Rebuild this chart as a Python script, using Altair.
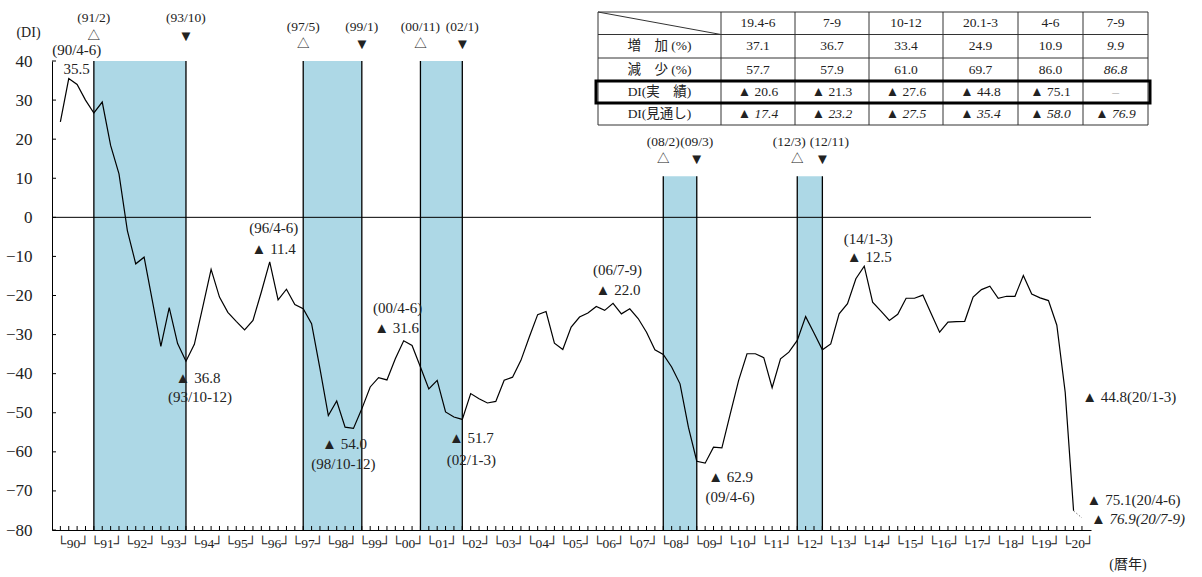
import altair as alt
import pandas as pd

# ---------------------------------------------------------------- data
# Quarterly DI, 1990 Q1 .. 2020 Q2 (negative = ▲)
di_quarterly = [
    24.4, 35.5, 34.0, 30.0,      # 1990
    26.7, 29.5, 18.4, 11.1,      # 1991
    -3.4, -11.9, -10.2, -21.5,   # 1992
    -33.0, -23.1, -32.3, -36.8,  # 1993
    -32.5, -23.0, -13.3, -20.4,  # 1994
    -24.3, -26.6, -28.8, -26.4,  # 1995
    -19.1, -11.4, -21.1, -18.4,  # 1996
    -22.3, -23.4, -27.2, -38.7,  # 1997
    -50.7, -47.0, -53.7, -54.0,  # 1998
    -49.0, -43.4, -41.0, -41.6,  # 1999
    -36.2, -31.6, -32.8, -38.3,  # 2000
    -43.9, -41.7, -49.8, -51.1,  # 2001
    -51.7, -45.1, -46.4, -47.5,  # 2002
    -47.1, -41.7, -40.9, -36.6,  # 2003
    -30.6, -24.9, -24.1, -32.2,  # 2004
    -33.8, -28.1, -25.5, -24.5,  # 2005
    -22.8, -23.8, -22.0, -24.7,  # 2006
    -23.4, -25.9, -29.4, -33.9,  # 2007
    -35.1, -38.3, -42.6, -53.7,  # 2008
    -62.4, -62.9, -58.8, -59.0,  # 2009
    -50.3, -41.7, -34.9, -34.9,  # 2010
    -35.9, -43.6, -36.2, -34.5,  # 2011
    -31.5, -25.4, -29.6, -33.9,  # 2012
    -32.4, -24.7, -22.1, -15.7,  # 2013
    -12.5, -21.7, -24.0, -26.4,  # 2014
    -24.8, -20.7, -20.7, -19.9,  # 2015
    -24.7, -29.4, -26.8, -26.7,  # 2016
    -26.6, -20.4, -18.5, -17.6,  # 2017
    -20.7, -20.2, -20.2, -14.9,  # 2018
    -19.6, -20.6, -21.3, -27.6,  # 2019
    -44.8, -75.1,                # 2020
]
di_outlook_next = -76.9          # 2020 Q3 outlook

# business-cycle peaks (△) and troughs (▼), yy/m
cycle_peaks = ["91/2", "97/5", "00/11", "08/2", "12/3"]
cycle_troughs = ["93/10", "99/1", "02/1", "09/3", "12/11"]

# turning points labelled on the line
noted_quarters = ["90/4-6", "93/10-12", "96/4-6", "98/10-12", "00/4-6",
                  "02/1-3", "06/7-9", "09/4-6", "14/1-3"]
side_quarters = ["20/1-3", "20/4-6", "20/7-9"]

# summary table
table_periods = ["19.4-6", "7-9", "10-12", "20.1-3", "4-6", "7-9"]
table_increase = [37.1, 36.7, 33.4, 24.9, 10.9, 9.9]
table_decrease = [57.7, 57.9, 61.0, 69.7, 86.0, 86.8]
table_di_actual = [-20.6, -21.3, -27.6, -44.8, -75.1, None]
table_di_outlook = [-17.4, -23.2, -27.5, -35.4, -58.0, -76.9]
table_row_names = ["増　加 (%)", "減　少 (%)", "DI(実　績)", "DI(見通し)"]

# ---------------------------------------------------------------- layout
LEFT, TOP = 52, 61
W, H = 1039, 469
X_DOM = [1989.75, 2020.77]
Y_DOM = [-80, 40]
PX_YEAR = W / (X_DOM[1] - X_DOM[0])
PX_UNIT = H / (Y_DOM[1] - Y_DOM[0])

FONT = "Liberation Serif, Noto Sans CJK JP"
INK = "#222222"
BAND = "#add8e6"


def px_to_t(px):
    return X_DOM[0] + (px - LEFT) / PX_YEAR


def py_to_v(py):
    return Y_DOM[1] - (py - TOP) / PX_UNIT


def full_year(yy):
    n = int(yy)
    return 1900 + n if n >= 50 else 2000 + n


def month_quarter_t(label):
    yy, mm = label.split("/")
    return full_year(yy) + ((int(mm) - 1) // 3) / 4


def quarter_t(label):
    yy, months = label.split("/")
    m = int(months.split("-")[0])
    return full_year(yy) + ((m - 1) // 3) / 4


def value_at(t):
    i = round((t - 1990) * 4)
    return di_quarterly[i] if i < len(di_quarterly) else di_outlook_next


def di_text(v):
    return f"{v:.1f}" if v >= 0 else f"▲ {abs(v):.1f}"


years = list(range(1990, 2021))
xs = alt.Scale(domain=X_DOM, nice=False, zero=False)
ys = alt.Scale(domain=Y_DOM, nice=False, zero=False)
x_axis = alt.Axis(
    values=[y + 0.375 for y in years],
    labelExpr="'└' + (floor(datum.value) % 100 < 10 ? '0' : '') + floor(datum.value) % 100 + '┘'",
    ticks=False, grid=False, title=None, domainColor="black", domainWidth=1,
    labelFont=FONT, labelFontSize=13.5, labelColor=INK, labelPadding=6,
    labelOverlap=False, labelFlush=False,
)
y_axis = alt.Axis(
    values=list(range(-80, 41, 10)), ticks=False, grid=False, title=None,
    domainColor="black", domainWidth=1, labelFont=FONT, labelFontSize=17,
    labelColor=INK, labelPadding=20, labelOverlap=False, labelFlush=False,
)


def xe(field):
    return alt.X(f"{field}:Q", scale=xs, axis=x_axis)


def ye(field):
    return alt.Y(f"{field}:Q", scale=ys, axis=y_axis)


def text_layer(df, size, align="center", style="normal", color=INK):
    return alt.Chart(df).mark_text(
        font=FONT, fontSize=size, align=align, baseline="middle",
        fontStyle=style, color=color,
    ).encode(x=xe("t"), y=ye("v"), text=alt.Text("text:N"))


layers = []

# ---------------------------------------------------------------- recession bands
band_tops = [40, 40, 40, 10.5, 10.5]
bands = pd.DataFrame({
    "t0": [month_quarter_t(p) for p in cycle_peaks],
    "t1": [month_quarter_t(p) for p in cycle_troughs],
    "y0": Y_DOM[0],
    "y1": band_tops,
})
layers.append(alt.Chart(bands).mark_rect(color=BAND).encode(
    x=xe("t0"), x2="t1", y=ye("y0"), y2="y1"))

edges = pd.DataFrame({
    "t": list(bands.t0) + list(bands.t1),
    "y0": Y_DOM[0],
    "y1": band_tops + band_tops,
})
layers.append(alt.Chart(edges).mark_rule(color="black", strokeWidth=1.3).encode(
    x=xe("t"), y=ye("y0"), y2="y1"))

# turning-point markers above the bands
label_lift = [43, 34, 34, 34, 34]
glyph_lift = [25, 17, 17, 17, 17]
label_nudge = {"12/3": -8, "12/11": 7}
pk_rows, tr_rows, lb_rows = [], [], []
for i, (p, q) in enumerate(zip(cycle_peaks, cycle_troughs)):
    top_py = TOP + (Y_DOM[1] - band_tops[i]) * PX_UNIT
    for lab, glyph, t, rows in ((p, "△", bands.t0[i], pk_rows),
                                (q, "▼", bands.t1[i], tr_rows)):
        rows.append({"t": t, "v": py_to_v(top_py - glyph_lift[i]), "text": glyph})
        lb_rows.append({"t": t + label_nudge.get(lab, 0) / PX_YEAR,
                        "v": py_to_v(top_py - label_lift[i]), "text": f"({lab})"})
layers.append(text_layer(pd.DataFrame(pk_rows), 12.5))
layers.append(text_layer(pd.DataFrame(tr_rows), 15))
layers.append(text_layer(pd.DataFrame(lb_rows), 13.5))

# ---------------------------------------------------------------- zero line
layers.append(alt.Chart(pd.DataFrame({"a": [X_DOM[0]], "b": [X_DOM[1]], "y": [0]}))
              .mark_rule(color="black", strokeWidth=1).encode(x=xe("a"), x2="b", y=ye("y")))

# ---------------------------------------------------------------- axis ticks (inward)
qticks = pd.DataFrame({"t": [1990 + i / 4 for i in range(len(di_quarterly) + 1)]})
qticks["y0"] = Y_DOM[0]
qticks["y1"] = Y_DOM[0] + 4 / PX_UNIT
layers.append(alt.Chart(qticks).mark_rule(color="black", strokeWidth=1).encode(
    x=xe("t"), y=ye("y0"), y2="y1"))

yticks = pd.DataFrame({"v": list(range(-80, 41, 10))})
yticks["a"] = X_DOM[0]
yticks["b"] = X_DOM[0] + 4 / PX_YEAR
layers.append(alt.Chart(yticks).mark_rule(color="black", strokeWidth=1).encode(
    x=xe("a"), x2="b", y=ye("v")))

# ---------------------------------------------------------------- DI line
series = pd.DataFrame({"t": [1990 + i / 4 for i in range(len(di_quarterly))],
                       "di": di_quarterly})
layers.append(alt.Chart(series).mark_line(color="black", strokeWidth=1.2).encode(
    x=xe("t"), y=ye("di")))

outlook = pd.DataFrame({"t": [series.t.iloc[-1], series.t.iloc[-1] + 0.25],
                        "di": [di_quarterly[-1], di_outlook_next]})
layers.append(alt.Chart(outlook).mark_line(color="#777777", strokeWidth=1,
                                           strokeDash=[1.5, 2]).encode(
    x=xe("t"), y=ye("di")))

# ---------------------------------------------------------------- point labels
note_offsets = {  # value label (dx, dy), date label (dx, dy) in px
    "90/4-6": (8, -10, 8, -29),
    "93/10-12": (12, 17, 14, 36),
    "96/4-6": (4, -13, 4, -34),
    "98/10-12": (-9, 16, -10, 36),
    "00/4-6": (-7, -13, -6, -33),
    "02/1-3": (9, 19, 9, 41),
    "06/7-9": (5, -13, 4.5, -33),
    "09/4-6": (25.5, 13.5, 25, 34),
    "14/1-3": (5, -9, 4, -27),
}
val_rows, date_rows = [], []
for q in noted_quarters:
    t = quarter_t(q)
    v = value_at(t)
    dxv, dyv, dxd, dyd = note_offsets[q]
    val_rows.append({"t": t + dxv / PX_YEAR, "v": v - dyv / PX_UNIT, "text": di_text(v)})
    date_rows.append({"t": t + dxd / PX_YEAR, "v": v - dyd / PX_UNIT, "text": f"({q})"})
layers.append(text_layer(pd.DataFrame(val_rows), 15))
layers.append(text_layer(pd.DataFrame(date_rows), 15))

side_offsets = {"20/1-3": (17, 5), "20/4-6": (13, -10.5), "20/7-9": (9, 1.5)}
side_rows = []
for q in side_quarters:
    t = quarter_t(q)
    v = value_at(t)
    dx, dy = side_offsets[q]
    side_rows.append({"t": t + dx / PX_YEAR, "v": v - dy / PX_UNIT,
                      "text": f"{di_text(v)}({q})", "outlook": q == side_quarters[-1]})
side_df = pd.DataFrame(side_rows)
layers.append(text_layer(side_df[~side_df.outlook], 15, align="left"))
layers.append(text_layer(side_df[side_df.outlook], 15, align="left", style="italic"))

# ---------------------------------------------------------------- axis captions
layers.append(text_layer(pd.DataFrame([
    {"t": px_to_t(28.5), "v": py_to_v(33), "text": "(DI)"},
    {"t": px_to_t(1128), "v": py_to_v(565), "text": "(暦年)"},
]), 14))

# ---------------------------------------------------------------- summary table
col_edges = [598, 721, 795, 869, 943, 1018, 1083, 1148]
row_edges = [12, 34.5, 58, 81, 103, 125]

grid = []
for py in row_edges:
    grid.append({"a": px_to_t(col_edges[0]), "b": px_to_t(col_edges[-1]),
                 "y0": py_to_v(py), "y1": py_to_v(py)})
for px in col_edges:
    grid.append({"a": px_to_t(px), "b": px_to_t(px),
                 "y0": py_to_v(row_edges[0]), "y1": py_to_v(row_edges[-1])})
grid.append({"a": px_to_t(col_edges[0]), "b": px_to_t(col_edges[1]),
             "y0": py_to_v(row_edges[0]), "y1": py_to_v(row_edges[1])})
layers.append(alt.Chart(pd.DataFrame(grid)).mark_rule(color="#333333", strokeWidth=1).encode(
    x=xe("a"), x2="b", y=ye("y0"), y2="y1"))

box = pd.DataFrame([{"a": px_to_t(col_edges[0] - 2), "b": px_to_t(col_edges[-1] + 2),
                     "y0": py_to_v(row_edges[3]), "y1": py_to_v(row_edges[4])}])
layers.append(alt.Chart(box).mark_rect(fillOpacity=0, stroke="black", strokeWidth=3).encode(
    x=xe("a"), x2="b", y=ye("y0"), y2="y1"))

cells = []


def cell(ci, ri, text, italic=False, color=INK):
    cx = (col_edges[ci] + col_edges[ci + 1]) / 2
    cy = (row_edges[ri] + row_edges[ri + 1]) / 2
    cells.append({"t": px_to_t(cx), "v": py_to_v(cy), "text": text,
                  "italic": italic, "color": color})


last = len(table_periods) - 1
for j, p in enumerate(table_periods):
    cell(j + 1, 0, p)
for r, name in enumerate(table_row_names):
    cell(0, r + 1, name)
for j in range(len(table_periods)):
    cell(j + 1, 1, f"{table_increase[j]:.1f}", italic=(j == last))
    cell(j + 1, 2, f"{table_decrease[j]:.1f}", italic=(j == last))
    a = table_di_actual[j]
    if a is None:
        cell(j + 1, 3, "–", color="#aaaaaa")
    else:
        cell(j + 1, 3, di_text(a))
    cell(j + 1, 4, di_text(table_di_outlook[j]), italic=True)

cells_df = pd.DataFrame(cells)
layers.append(text_layer(cells_df[(~cells_df.italic) & (cells_df.color == INK)], 13.5))
layers.append(text_layer(cells_df[cells_df.italic], 13.5, style="italic"))
layers.append(text_layer(cells_df[cells_df.color != INK], 13.5, color="#aaaaaa"))

# ---------------------------------------------------------------- assemble
chart = alt.layer(*layers).properties(
    width=W, height=H,
    padding={"left": LEFT, "top": TOP, "right": 1202 - LEFT - W, "bottom": 577 - TOP - H},
    autosize=alt.AutoSizeParams(type="none"),
    background="white",
).configure_view(stroke=None)

chart.save("out.html", embed_options={"renderer": "svg", "actions": False})
